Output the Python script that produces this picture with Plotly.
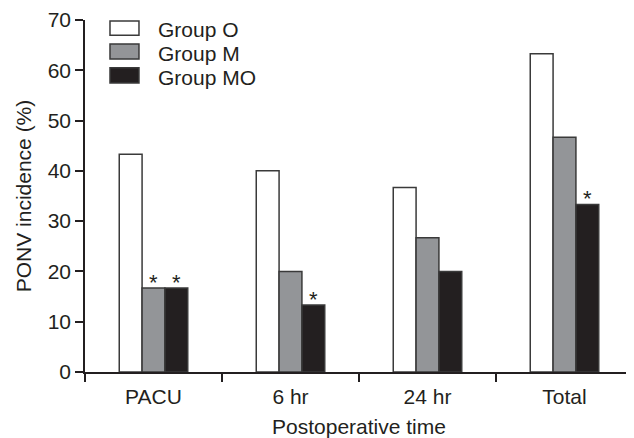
import plotly.graph_objects as go

categories = ["PACU", "6 hr", "24 hr", "Total"]
group_o = [43.3, 40.0, 36.7, 63.3]
group_m = [16.7, 20.0, 26.7, 46.7]
group_mo = [16.7, 13.3, 20.0, 33.3]
series_names = ["Group O", "Group M", "Group MO"]
# significance markers: (category index, series index)
stars = [(0, 1), (0, 2), (1, 2), (3, 2)]

colors = ["#ffffff", "#939598", "#231f20"]
outline = "#3a3a3a"
series = [group_o, group_m, group_mo]
font_family = "Liberation Sans, Arial, sans-serif"
text_color = "#231f20"

fig = go.Figure()
for name, vals, col in zip(series_names, series, colors):
    fig.add_trace(go.Bar(
        x=categories, y=vals, name=name, showlegend=False,
        marker=dict(color=col, line=dict(color=outline, width=1.5)),
    ))

bar_px = 23
for ci, si in stars:
    fig.add_annotation(
        x=categories[ci], y=series[si][ci], text="*", showarrow=False,
        xshift=(si - 1) * bar_px, yshift=6, yanchor="middle",
        font=dict(size=22, color=text_color, family=font_family),
    )

# legend drawn as key boxes + labels (paper coordinates)
leg_x0, leg_x1, leg_tx = 0.0456, 0.0985, 0.1296
leg_rows = [(0.957, 0.997, 0.974), (0.889, 0.932, 0.906), (0.821, 0.864, 0.838)]
for name, col, (y0, y1, ty) in zip(series_names, colors, leg_rows):
    fig.add_shape(type="rect", xref="paper", yref="paper",
                  x0=leg_x0, x1=leg_x1, y0=y0, y1=y1,
                  fillcolor=col, line=dict(color=outline, width=1.5))
    fig.add_annotation(xref="paper", yref="paper", x=leg_tx, y=ty,
                       text=name, showarrow=False, xanchor="left", yanchor="middle",
                       font=dict(size=21, color=text_color, family=font_family))

fig.update_layout(
    width=626, height=430,
    margin=dict(l=77, r=1, t=12, b=66),
    paper_bgcolor="white", plot_bgcolor="white",
    barmode="group", bargap=0.5, bargroupgap=0,
    font=dict(family=font_family, size=21, color=text_color),
    showlegend=False,
    xaxis=dict(
        tickson="boundaries", ticks="outside", ticklen=8, tickwidth=1.5,
        tickcolor=text_color, showline=True, linecolor=text_color, linewidth=1.5,
        showgrid=False, tickfont=dict(size=21), automargin=False,
        ticklabelstandoff=5,
        title=dict(text="Postoperative time", font=dict(size=21), standoff=17),
    ),
    yaxis=dict(
        range=[0, 70], dtick=10, ticks="outside", ticklen=8, tickwidth=1.5,
        tickcolor=text_color, showline=True, linecolor=text_color, linewidth=1.5,
        showgrid=False, zeroline=False, tickfont=dict(size=21), automargin=False,
        title=dict(text="PONV incidence (%)", font=dict(size=21), standoff=10),
    ),
)

fig.write_html("out.html")
